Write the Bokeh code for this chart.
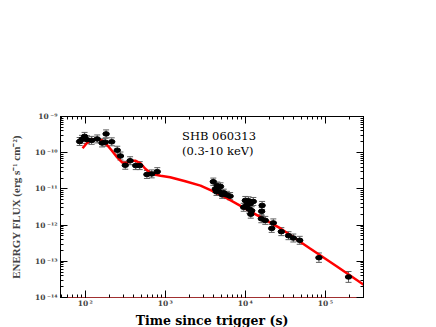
from bokeh.plotting import figure
from bokeh.models import (ColumnDataSource, Whisker, TeeHead, LogAxis, LogTicker,
                          CustomJSTickFormatter, Range1d, Title)
from bokeh.core.properties import value
from bokeh.embed import file_html
from bokeh.resources import INLINE

# ---- data ----
time_s = [85, 91, 98, 105, 120, 141, 162, 182, 178, 214, 251, 275, 316, 363, 427, 479, 589, 676, 794,
          3981, 4217, 4365, 4467, 4677, 4898, 5129, 5370, 5888, 6457,
          9550, 10000, 10470, 10960, 11200, 11480, 11700, 12020, 12590,
          16220, 16000, 15850, 17780, 21380, 22390, 28180, 34670, 39810, 47860, 83180, 195000]
flux = [2.04e-10, 2.34e-10, 2.82e-10, 2.29e-10, 2.19e-10, 2.40e-10, 1.86e-10, 3.31e-10, 1.95e-10,
        2.0e-10, 1.17e-10, 8.1e-11, 4.5e-11, 6.0e-11, 4.4e-11, 4.4e-11, 2.5e-11, 2.6e-11, 3.0e-11,
        1.58e-11, 1.0e-11, 8.3e-12, 1.23e-11, 8.5e-12, 1.17e-11, 6.9e-12, 7.8e-12, 6.8e-12, 6.3e-12,
        3.1e-12, 4.8e-12, 3.6e-12, 4.7e-12, 2.75e-12, 3.9e-12, 2.0e-12, 2.5e-12, 4.5e-12,
        3.5e-12, 2.4e-12, 1.5e-12, 1.35e-12, 8.1e-13, 1.15e-12, 6.6e-13, 5.1e-13, 4.4e-13, 3.8e-13,
        1.26e-13, 3.7e-14]
err_dex = [0.11] * 19 + [0.10] * 10 + [0.11] * 9 + [0.11] * 10 + [0.13, 0.15]

model_t = [92.5, 104.7, 120, 140, 162, 186, 214, 251, 288, 331, 380, 422, 490, 562, 676, 871,
           1148, 1778, 2754, 4898, 8710, 15490, 27540, 63100, 141250, 302000]
model_flux = [1.32e-10, 1.86e-10, 2.29e-10, 2.45e-10, 2.19e-10, 1.66e-10, 1.15e-10, 7.4e-11,
              5.4e-11, 5.25e-11, 6.0e-11, 6.0e-11, 5.1e-11, 3.6e-11, 2.6e-11, 2.3e-11,
              2.1e-11, 1.62e-11, 1.23e-11, 6.9e-12, 3.4e-12, 1.66e-12, 8.1e-13, 2.34e-13,
              7.1e-14, 2.24e-14]

label_lines = ["SHB 060313", "(0.3-10 keV)"]
label_t = [1620, 1620]
label_flux = [2.97e-10, 1.11e-10]

x_title = "Time since trigger (s)"
y_title = "ENERGY FLUX (erg s\u207b\u00b9 cm\u207b\u00b2)"

# ---- figure ----
SERIF = "Liberation Serif"
WIDE_SERIF = "DejaVu Serif"
p = figure(width=436, height=327, x_axis_type="log", y_axis_type="log",
           x_range=Range1d(49, 3.0e5), y_range=Range1d(1e-14, 1e-9),
           output_backend="svg", toolbar_location=None,
           min_border_left=60, min_border_right=73, min_border_top=116, min_border_bottom=20)
p.xgrid.visible = False
p.ygrid.visible = False
p.outline_line_color = "black"
p.background_fill_color = "white"
p.border_fill_color = "white"

fmt_code = """
const sup = {"-":"\\u207B","0":"\\u2070","1":"\\u00B9","2":"\\u00B2","3":"\\u00B3",
             "4":"\\u2074","5":"\\u2075","6":"\\u2076","7":"\\u2077","8":"\\u2078","9":"\\u2079"};
const e = Math.round(Math.log(tick) / Math.LN10);
return "10" + "\\u2009" + String(e).split("").map(c => sup[c]).join("");
"""


def style_axis(ax, labels=True):
    ax.ticker = LogTicker(num_minor_ticks=10)
    ax.major_tick_in = 7
    ax.major_tick_out = 0
    ax.minor_tick_in = 3
    ax.minor_tick_out = 0
    ax.axis_line_color = "black"
    ax.major_tick_line_color = "black"
    ax.minor_tick_line_color = "black"
    if labels:
        ax.formatter = CustomJSTickFormatter(code=fmt_code)
        ax.major_label_text_font = WIDE_SERIF
        ax.major_label_text_font_style = "bold"
        ax.major_label_text_font_size = "7.5px"
        ax.major_label_standoff = 3
    else:
        ax.major_label_text_alpha = 0
        ax.major_label_text_font_size = "2px"
        ax.major_label_standoff = 0


xa = p.xaxis[0]
ya = p.yaxis[0]
style_axis(xa)
style_axis(ya)
xa.axis_line_color = "#a03030"
xa.major_label_standoff = 1
ya.axis_label = y_title
ya.axis_label_text_font = SERIF
ya.axis_label_text_font_style = "bold"
ya.axis_label_text_font_size = "11px"
ya.axis_label_standoff = 10

# x-axis title as a compact panel under the axis
p.add_layout(Title(text=x_title, align="center", standoff=0, offset=0,
                   text_font=WIDE_SERIF, text_font_style="bold", text_font_size="12.5px",
                   text_color="black"), "below")

top = LogAxis()
right = LogAxis()
style_axis(top, labels=False)
style_axis(right, labels=False)
p.add_layout(top, "above")
p.add_layout(right, "right")

# model curve
p.line(model_t, model_flux, line_color="#ff0000", line_width=2.5)

# error bars
lo = [f / 10 ** e for f, e in zip(flux, err_dex)]
hi = [f * 10 ** e for f, e in zip(flux, err_dex)]
src = ColumnDataSource(dict(t=time_s, f=flux, lo=lo, hi=hi))
wk = Whisker(source=src, base="t", lower="lo", upper="hi", dimension="height",
             line_color="#606060", line_width=1,
             upper_head=TeeHead(size=6, line_color="#606060", line_width=1),
             lower_head=TeeHead(size=6, line_color="#606060", line_width=1))
p.add_layout(wk)

p.ellipse(x="t", y="f", width=6.5, height=4.5, width_units="screen", height_units="screen",
          source=src, fill_color="black", line_color="black")

p.text(x=label_t, y=label_flux, text=label_lines, text_font=value(WIDE_SERIF),
       text_font_size="11.5px", text_align="left", text_baseline="middle", text_color="black")

open("out.html", "w", encoding="utf-8").write(file_html(p, INLINE))
